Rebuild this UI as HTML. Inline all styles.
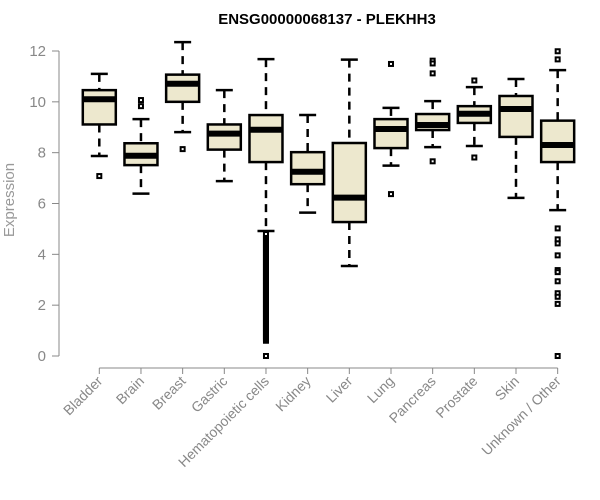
<!DOCTYPE html>
<html><head><meta charset="utf-8"><style>
body{margin:0;background:#fff;}
svg{display:block;font-family:"Liberation Sans",Arial,sans-serif;}
</style></head><body>
<svg id="chart" width="600" height="500">
<text x="327" y="24" text-anchor="middle" font-weight="bold" font-size="15">ENSG00000068137 - PLEKHH3</text>
<text transform="translate(14,200) rotate(-90)" text-anchor="middle" font-size="15" fill="#999">Expression</text>
<g id="axes"></g><g id="plot"></g>
</svg>
<script>
const categories=["Bladder","Brain","Breast","Gastric","Hematopoietic cells","Kidney","Liver","Lung","Pancreas","Prostate","Skin","Unknown / Other"];
const whiskerLow=[7.87,6.39,8.81,6.88,4.92,5.64,3.54,7.49,8.22,8.26,6.22,5.74];
const q1=[9.11,7.51,10.0,8.12,7.63,6.76,5.27,8.18,8.89,9.17,8.62,7.63];
const medians=[10.1,7.88,10.71,8.75,8.9,7.25,6.23,8.93,9.09,9.53,9.72,8.3];
const q3=[10.46,8.37,11.07,9.11,9.48,8.02,8.38,9.32,9.52,9.83,10.23,9.26];
const whiskerHigh=[11.1,9.32,12.35,10.46,11.68,9.48,11.66,9.76,10.03,10.58,10.9,11.25];
const outliers=[
[7.08],
[10.07,9.83],
[8.14],
[],
[0,0.6,0.65,0.7,0.75,0.8,0.85,0.9,0.95,1.0,1.05,1.1,1.15,1.2,1.25,1.3,1.35,1.4,1.45,1.5,1.55,1.6,1.65,1.7,1.75,1.8,1.85,1.9,1.95,2.0,2.05,2.1,2.15,2.2,2.25,2.3,2.35,2.4,2.45,2.5,2.55,2.6,2.65,2.7,2.75,2.8,2.85,2.9,2.95,3.0,3.05,3.1,3.15,3.2,3.25,3.3,3.35,3.4,3.45,3.5,3.55,3.6,3.65,3.7,3.75,3.8,3.85,3.9,3.95,4.0,4.05,4.1,4.15,4.2,4.25,4.3,4.35,4.4,4.45,4.5,4.55,4.6,4.65,4.7,4.75,4.8],
[],
[],
[11.49,6.37],
[11.62,11.51,11.12,7.66],
[10.84,7.81],
[],
[11.99,11.67,5.02,4.59,4.43,3.96,3.38,3.3,2.94,2.47,2.33,2.05,0]
];
const yTicks=[0,2,4,6,8,10,12];
const NS="http://www.w3.org/2000/svg";
const y=v=>356-v*(305/12);
const x=i=>99.3+i*41.67;
function mk(tag,attrs,parent){const e=document.createElementNS(NS,tag);for(const k in attrs)e.setAttribute(k,attrs[k]);parent.appendChild(e);return e;}
const axes=document.getElementById('axes'),plot=document.getElementById('plot');
let l=mk('line',{x1:59,x2:59,y1:y(12),y2:y(0),stroke:'#888'},axes);


yTicks.forEach(t=>{
 let tk=mk('line',{x1:52,x2:59,y1:y(t),y2:y(t),stroke:'#888'},axes);
 
 
 let tx=mk('text',{x:46,y:y(t)+5,'text-anchor':'end','font-size':15,fill:'#888'},axes);
 tx.textContent=t;
 
 
});
let xl=mk('line',{x1:x(0),x2:x(11),y1:368,y2:368,stroke:'#888'},axes);


categories.forEach((c,i)=>{
 const cx=x(i);
 let tk=mk('line',{x1:cx,x2:cx,y1:368,y2:374,stroke:'#888'},axes);
 
 
 let tx=mk('text',{transform:`translate(${cx+4},382) rotate(-45)`,'text-anchor':'end','font-size':14,fill:'#888'},axes);
 tx.textContent=c;
 
 
 const g=mk('g',{},plot);
 
 
 mk('line',{x1:cx,x2:cx,y1:y(whiskerHigh[i]),y2:y(q3[i]),stroke:'#000','stroke-width':2.5,'stroke-dasharray':'8,6'},g);
 mk('line',{x1:cx,x2:cx,y1:y(q1[i]),y2:y(whiskerLow[i]),stroke:'#000','stroke-width':2.5,'stroke-dasharray':'8,6'},g);
 mk('line',{x1:cx-8.5,x2:cx+8.5,y1:y(whiskerHigh[i]),y2:y(whiskerHigh[i]),stroke:'#000','stroke-width':2.5},g);
 mk('line',{x1:cx-8.5,x2:cx+8.5,y1:y(whiskerLow[i]),y2:y(whiskerLow[i]),stroke:'#000','stroke-width':2.5},g);
 mk('rect',{x:cx-16.5,y:y(q3[i]),width:33,height:y(q1[i])-y(q3[i]),fill:'#ede8ce',stroke:'#000','stroke-width':2.5},g);
 mk('line',{x1:cx-16.5,x2:cx+16.5,y1:y(medians[i]),y2:y(medians[i]),stroke:'#000','stroke-width':6},g);
 outliers[i].forEach(v=>{
  let p=mk('rect',{x:cx-2,y:y(v)-2,width:4,height:4,fill:'#fff',stroke:'#000','stroke-width':2},g);
  
  
 });
});
</script>
</body></html>
